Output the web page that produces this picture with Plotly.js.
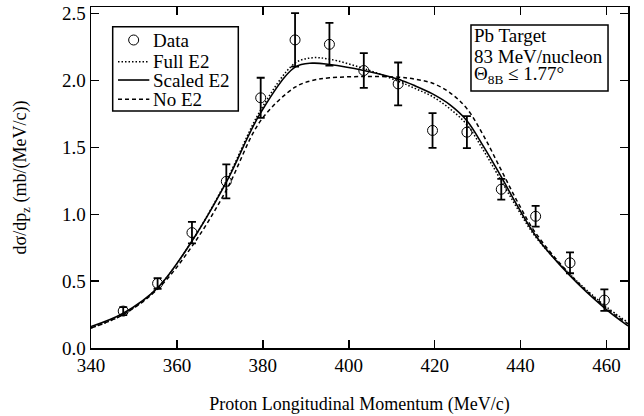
<!DOCTYPE html>
<html>
<head>
<meta charset="utf-8">
<script src="https://cdn.plot.ly/plotly-3.0.1.min.js"></script>
<style>html,body{margin:0;padding:0;background:#fff;}</style>
</head>
<body>
<div id="chart" style="width:644px;height:416px;"></div>
<script>
// Measured data
const dataX = [347.5, 355.5, 363.5, 371.5, 379.5, 387.5, 395.5, 403.5, 411.5, 419.5, 427.5, 435.5, 443.5, 451.5, 459.5];
const dataY = [0.276, 0.483, 0.863, 1.246, 1.871, 2.304, 2.271, 2.075, 1.975, 1.627, 1.614, 1.187, 0.985, 0.637, 0.358];
const dataErr = [0.03, 0.04, 0.08, 0.127, 0.15, 0.2, 0.16, 0.13, 0.16, 0.13, 0.12, 0.078, 0.078, 0.078, 0.08];

// Model curves
const curveX   = [340, 347.5, 355.5, 363.5, 371.5, 379.5, 387.5, 391.5, 395.5, 403.5, 411.5, 415.5, 419.5, 423.5, 427.5, 431.5, 435.5, 439.5, 443.5, 451.5, 459.5, 465];
const fullE2   = [0.15, 0.25, 0.45, 0.80, 1.25, 1.78, 2.13, 2.17, 2.16, 2.09, 1.995, 1.94, 1.88, 1.79, 1.67, 1.47, 1.25, 1.03, 0.83, 0.55, 0.32, 0.19];
const scaledE2 = [0.16, 0.26, 0.45, 0.80, 1.24, 1.76, 2.10, 2.13, 2.12, 2.075, 2.01, 1.96, 1.90, 1.82, 1.70, 1.50, 1.28, 1.05, 0.84, 0.54, 0.30, 0.165];
const noE2     = [0.15, 0.25, 0.44, 0.76, 1.18, 1.70, 1.95, 2.00, 2.02, 2.03, 2.025, 2.01, 1.98, 1.91, 1.79, 1.58, 1.33, 1.08, 0.86, 0.55, 0.31, 0.18];

const xTicks = [340, 360, 380, 400, 420, 440, 460];
const yTicks = [0.0, 0.5, 1.0, 1.5, 2.0, 2.5];

const legendNames = ['Data', 'Full E2', 'Scaled E2', 'No E2'];
const boxLines = ['Pb Target', '83 MeV/nucleon', 'Θ<sub>8B</sub> ≤ 1.77°'];

const FONT = 'Liberation Serif, Times New Roman, serif';
const DOT = '1.5px,2px';
const DASH = '4px,3px';

const traces = [
  {x: curveX, y: fullE2, mode: 'lines', name: 'Full E2', showlegend: false,
   line: {color: 'black', width: 1.5, dash: DOT, shape: 'spline'}},
  {x: curveX, y: scaledE2, mode: 'lines', name: 'Scaled E2', showlegend: false,
   line: {color: 'black', width: 1.6, shape: 'spline'}},
  {x: curveX, y: noE2, mode: 'lines', name: 'No E2', showlegend: false,
   line: {color: 'black', width: 1.5, dash: DASH, shape: 'spline'}},
  {x: dataX, y: dataY, mode: 'markers', name: 'Data', showlegend: false,
   marker: {symbol: 'circle-open', size: 10, color: 'black', line: {width: 1}},
   error_y: {type: 'data', array: dataErr, visible: true, color: 'black', thickness: 1.8, width: 4}}
];

// legend geometry (paper coords)
const lgX0 = 0.0404, lgX1 = 0.2743, lgY0 = 0.695, lgY1 = 0.9422;
const lgRows = [0.9032, 0.8396, 0.7859, 0.7293];
const lgLineX0 = 0.0503, lgLineX1 = 0.1086, lgTextX = 0.1116;
const lgStyles = [null, DOT, 'solid', DASH];

const shapes = [
  {type: 'rect', xref: 'paper', yref: 'paper', x0: lgX0, x1: lgX1, y0: lgY0, y1: lgY1,
   line: {color: 'black', width: 1.5}, fillcolor: 'white', layer: 'above'},
  {type: 'circle', xref: 'paper', yref: 'paper', xsizemode: 'pixel', ysizemode: 'pixel',
   xanchor: (lgLineX0 + lgLineX1) / 2, yanchor: lgRows[0], x0: -5, x1: 5, y0: -5, y1: 5,
   line: {color: 'black', width: 1}, layer: 'above'},
  {type: 'rect', xref: 'paper', yref: 'paper', x0: 0.7076, x1: 0.9628, y0: 0.754, y1: 0.947,
   line: {color: 'black', width: 1.5}, fillcolor: 'white', layer: 'above'}
];
for (let i = 1; i < 4; i++) {
  shapes.push({type: 'line', xref: 'paper', yref: 'paper', x0: lgLineX0, x1: lgLineX1,
    y0: lgRows[i], y1: lgRows[i], line: {color: 'black', width: i === 2 ? 1.6 : 1.5, dash: lgStyles[i]}, layer: 'above'});
}

const annotations = [];
legendNames.forEach((n, i) => annotations.push({
  xref: 'paper', yref: 'paper', x: lgTextX, y: lgRows[i], xanchor: 'left', yanchor: 'middle',
  text: n, showarrow: false, font: {family: FONT, size: 19, color: 'black'}
}));
const boxRows = [0.916, 0.856, 0.800];
boxLines.forEach((t, i) => annotations.push({
  xref: 'paper', yref: 'paper', x: 0.7095, y: boxRows[i], xanchor: 'left', yanchor: 'middle',
  text: t, showarrow: false, font: {family: FONT, size: 19, color: 'black'}
}));

const layout = {
  width: 644, height: 416,
  margin: {l: 91, r: 16, t: 7, b: 68},
  paper_bgcolor: 'white', plot_bgcolor: 'white',
  font: {family: FONT, color: 'black', size: 18},
  showlegend: false,
  xaxis: {range: [340, 465], tickvals: xTicks, ticktext: xTicks.map(String),
          ticks: 'inside', ticklen: 8, tickwidth: 1.5, tickcolor: 'black',
          showline: true, linewidth: 1.5, linecolor: 'black', mirror: 'ticks',
          showgrid: false, zeroline: false,
          tickfont: {family: FONT, size: 19, color: 'black'},
          title: {text: 'Proton Longitudinal Momentum (MeV/c)', standoff: 22,
                  font: {family: FONT, size: 18, color: 'black'}}},
  yaxis: {range: [0, 2.55], tickvals: yTicks, ticktext: yTicks.map(v => v.toFixed(1)),
          ticks: 'inside', ticklen: 8, tickwidth: 1.5, tickcolor: 'black',
          showline: true, linewidth: 1.5, linecolor: 'black', mirror: 'ticks',
          showgrid: false, zeroline: false,
          tickfont: {family: FONT, size: 19, color: 'black'},
          title: {text: 'dσ/dp<sub>z</sub> (mb/(MeV/c))', standoff: 30,
                  font: {family: FONT, size: 18, color: 'black'}}},
  shapes: shapes,
  annotations: annotations
};

Plotly.newPlot('chart', traces, layout, {staticPlot: true, displayModeBar: false});
</script>
</body>
</html>
